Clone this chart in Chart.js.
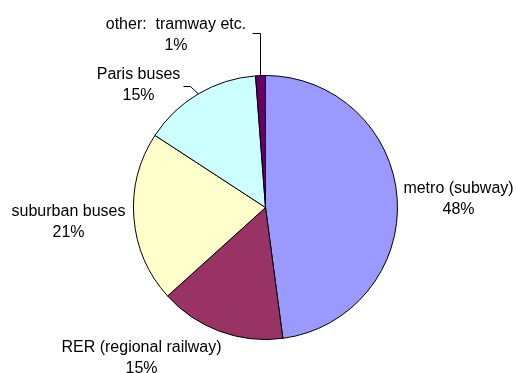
<!DOCTYPE html>
<html lang="en">
<head>
    <meta charset="UTF-8">
    <title>Paris public transport trips</title>
    <script src="https://cdn.jsdelivr.net/npm/chart.js"></script>
    <style>
        html, body { margin: 0; padding: 0; background: #fff; }
        #wrap { width: 516px; height: 373px; }
    </style>
</head>
<body>
    <div id="wrap"><canvas id="modeChart" width="516" height="373"></canvas></div>

    <script>
        // Share of trips by mode (percent)
        const modes = ['metro (subway)', 'RER (regional railway)', 'suburban buses', 'Paris buses', 'other:  tramway etc.'];
        const shares = [47.9, 15.4, 20.9, 14.6, 1.2];
        const sliceColors = ['#9999FF', '#993366', '#FFFFCC', '#CCFFFF', '#660066'];

        // Where each label sits, relative to the pie centre (x centre, first baseline)
        const labelSpots = [
            { dx: 193, dy: -15 },
            { dx: -124, dy: 144 },
            { dx: -197, dy: 8.5 },
            { dx: -127, dy: -129 },
            { dx: -89.5, dy: -179 }
        ];
        // Leader lines: start point near the text, short horizontal run, then to the arc
        const leaders = [null, null, null,
            { dx: -82, dy: -121, run: 7 },
            { dx: -13, dy: -174, run: null }
        ];

        const outsideLabels = {
            id: 'outsideLabels',
            afterDatasetsDraw(chart) {
                const ctx = chart.ctx;
                const arcs = chart.getDatasetMeta(0).data;
                const total = shares.reduce((a, b) => a + b, 0);
                ctx.save();
                ctx.font = '16px "Liberation Sans", Arial, sans-serif';
                ctx.fillStyle = '#000';
                ctx.textAlign = 'center';
                ctx.textBaseline = 'alphabetic';
                arcs.forEach((arc, i) => {
                    const p = arc.getProps(['x', 'y', 'startAngle', 'endAngle', 'outerRadius'], true);
                    const spot = labelSpots[i];
                    const tx = p.x + spot.dx;
                    const ty = p.y + spot.dy;
                    ctx.fillText(modes[i], tx, ty);
                    ctx.fillText(Math.round(shares[i] / total * 100) + '%', tx, ty + 21);

                    const lead = leaders[i];
                    if (lead) {
                        const mid = (p.startAngle + p.endAngle) / 2;
                        const ax = p.x + Math.cos(mid) * p.outerRadius;
                        const ay = p.y + Math.sin(mid) * p.outerRadius;
                        const sx = p.x + lead.dx;
                        const sy = p.y + lead.dy;
                        const ex = lead.run === null ? ax : sx + lead.run;
                        ctx.beginPath();
                        ctx.strokeStyle = '#000';
                        ctx.lineWidth = 1;
                        ctx.moveTo(sx, sy);
                        ctx.lineTo(ex, sy);
                        ctx.lineTo(ax, ay);
                        ctx.stroke();
                    }
                });
                ctx.restore();
            }
        };

        new Chart(document.getElementById('modeChart'), {
            type: 'pie',
            data: {
                labels: modes,
                datasets: [{
                    data: shares,
                    backgroundColor: sliceColors,
                    borderColor: '#000',
                    borderWidth: 1,
                    hoverOffset: 0
                }]
            },
            options: {
                responsive: false,
                animation: false,
                layout: {
                    padding: { left: 133, right: 118, top: 75, bottom: 33 }
                },
                plugins: {
                    legend: { display: false },
                    tooltip: { enabled: false }
                }
            },
            plugins: [outsideLabels]
        });
    </script>
</body>
</html>
